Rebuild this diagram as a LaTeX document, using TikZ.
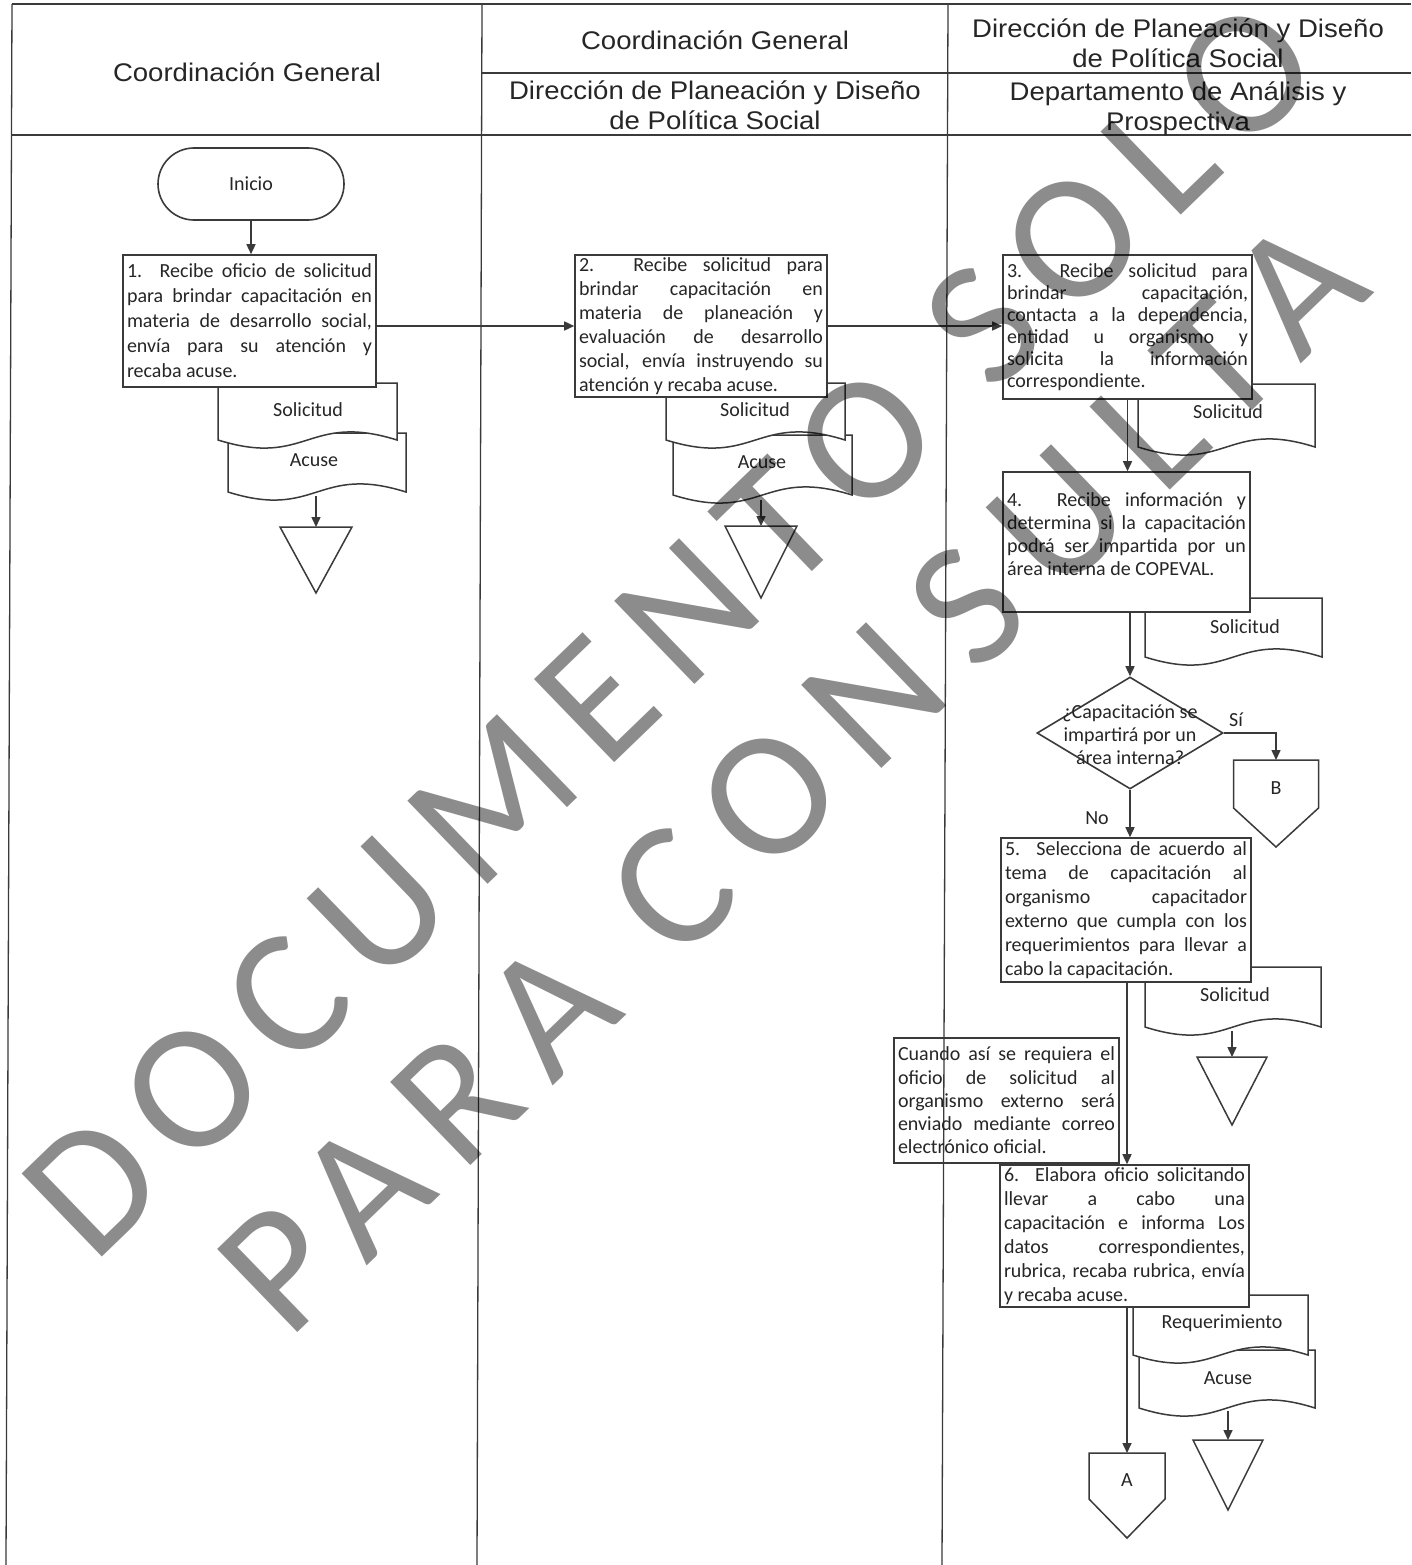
\documentclass[tikz,border=0pt]{standalone}
\usepackage{fontspec}
\setmainfont{Carlito}
\newfontfamily\hdrfont[FakeStretch=1.08]{Liberation Sans}
\newfontfamily\wmfonta[LetterSpace=13]{Carlito}
\newfontfamily\wmfontb[LetterSpace=16]{Carlito}
\usetikzlibrary{arrows.meta,shapes.geometric}
\definecolor{ln}{HTML}{3A3A3A}
\definecolor{tx}{HTML}{262626}
\definecolor{wmgray}{HTML}{8C8C8C}
\newcommand\J[1]{\makebox[\linewidth][s]{\spaceskip=0pt\relax\xspaceskip=0pt\relax #1}}
\newcommand\docshape[4]{\filldraw[docline] (#1,#2) -- (#3,#2) -- (#3,#4) .. controls ({(#1+#3)/2},{#4-28}) and ({(#1+#3)/2},{#4+28}) .. (#1,#4) -- cycle;}
\newcommand\mergetri[5]{\coordinate (#1) at (#2,#3);
  \filldraw[docline] (#2-#4,#3) -- (#2+#4,#3) -- (#2,#3+#5) -- cycle;}
\newcommand\offpage[7]{\coordinate (#1) at (#2,#3);
  \filldraw[docline] (#2-#4,#3) -- (#2+#4,#3) -- (#2+#4,#5) -- (#2,#6) -- (#2-#4,#5) -- cycle;
  \node[lbl] (#1-l) at (#2,{(#3+#5)/2+4}) {#7};}
\begin{document}
\begin{tikzpicture}[x=1pt,y=-1pt,
  lane/.style={draw=ln, line width=1.3pt},
  docline/.style={draw=ln, line width=1.5pt, fill=white},
  proc/.style={draw=ln, line width=1.6pt, fill=white, inner xsep=4pt, inner ysep=0pt,
    text=tx, align=justify, font=\fontsize{20}{24}\selectfont},
  hdr/.style={text=tx, align=center, font=\hdrfont\fontsize{25.5}{30}\selectfont},
  lbl/.style={text=tx, font=\fontsize{20}{23}\selectfont, inner sep=0pt},
  term/.style={draw=ln, line width=1.6pt, fill=white, rounded corners=36pt,
    minimum width=186pt, minimum height=72pt, text=tx, font=\fontsize{20}{24}\selectfont},
  dec/.style={diamond, draw=ln, line width=1.6pt, fill=white, minimum width=186pt,
    minimum height=112pt, inner sep=0pt},
  flow/.style={draw=ln, line width=1.5pt, -{Triangle[length=10pt,width=9pt]}},
  wm/.style={text=wmgray, inner sep=0pt, anchor=base west, rotate=44, blend mode=multiply}]
\useasboundingbox (0,0) rectangle (1411,1565);
\fill[white] (0,0) rectangle (1411,1565);
% lanes
\draw[lane] (12,4) -- (1411,4);
\draw[lane] (12,135) -- (1411,135);
\draw[lane] (482,73) -- (1411,73);
\draw[lane] (12,4) -- (6,1565);
\draw[lane] (482,4) -- (477,1565);
\draw[lane] (948,4) -- (942,1565);
% headers
\node[hdr] (h1) at (247,72) {Coordinación General};
\node[hdr] (h2a) at (715,40) {Coordinación General};
\node[hdr] (h2b) at (715,105) {Dirección de Planeación y Diseño\\de Política Social};
\node[hdr] (h3a) at (1178,43) {Dirección de Planeación y Diseño\\de Política Social};
\node[hdr] (h3b) at (1178,109) {Departamento de Análisis y\\Prospectiva};
% start
\node[term] (ini) at (251,184) {Inicio};
% column 1
\docshape{228}{433}{406}{492}
\docshape{218}{383}{397}{440}
\node[proc, text width=245pt, minimum height=132pt, font=\fontsize{20}{25}\selectfont] (b1) at (249.5,321) {%
\J{1. Recibe oficio de solicitud}\\
\J{para brindar capacitación en}\\
\J{materia de desarrollo social,}\\
\J{envía para su atención y}\\
recaba acuse.};
\node[lbl] (d1s) at (308,410) {Solicitud};
\node[lbl] (d1a) at (314,460) {Acuse};
\coordinate (d1a-b) at (316,496);
\mergetri{t1}{316}{527}{36}{66}
% column 2
\docshape{673}{435}{852}{495}
\docshape{666}{383}{845}{440}
\node[proc, text width=244pt, minimum height=142pt] (b2) at (701,326) {%
\J{2. Recibe solicitud para}\\
\J{brindar capacitación en}\\
\J{materia de planeación y}\\
\J{evaluación de desarrollo}\\
\J{social, envía instruyendo su}\\
atención y recaba acuse.};
\node[lbl] (d2s) at (755,410) {Solicitud};
\node[lbl] (d2a) at (762,462) {Acuse};
\coordinate (d2a-b) at (761,500);
\mergetri{t2}{761}{526}{36}{72}
% column 3
\docshape{1138}{384}{1315}{447}
\node[proc, text width=241pt, minimum height=144pt, font=\fontsize{20}{22}\selectfont] (b3) at (1127.5,327) {%
\J{3. Recibe solicitud para}\\
\J{brindar capacitación,}\\
\J{contacta a la dependencia,}\\
\J{entidad u organismo y}\\
\J{solicita la información}\\
correspondiente.};
\node[lbl] (d3s) at (1228,412) {Solicitud};
\docshape{1145}{598}{1322}{657}
\node[proc, text width=239pt, minimum height=140pt, font=\fontsize{20}{23}\selectfont] (b4) at (1126.5,542) {%
\J{4. Recibe información y}\\
\J{determina si la capacitación}\\
\J{podrá ser impartida por un}\\
área interna de COPEVAL.\par\vspace*{16pt}};
\node[lbl] (d4s) at (1245,627) {Solicitud};
\node[dec] (dec) at (1130,733) {};
\node[lbl, align=center] (dect) at (1130,735) {¿Capacitación se\\impartirá por un\\área interna?};
\node[lbl] (si) at (1236,720) {Sí};
\node[lbl] (no) at (1097,818) {No};
\offpage{pB}{1276}{760}{42.5}{808}{847}{B}
\docshape{1145}{967}{1321}{1027}
\node[proc, text width=242pt, minimum height=144pt] (b5) at (1126,910) {%
\J{5. Selecciona de acuerdo al}\\
\J{tema de capacitación al}\\
\J{organismo capacitador}\\
\J{externo que cumpla con los}\\
\J{requerimientos para llevar a}\\
cabo la capacitación.};
\node[lbl] (d5s) at (1235,995) {Solicitud};
\coordinate (d5s-b) at (1232,1031);
\mergetri{t5}{1232}{1057}{35}{68}
\node[proc, fill=none, text width=217pt, minimum height=125pt, font=\fontsize{20}{23.3}\selectfont] (nota) at (1006.5,1100.5) {%
\J{Cuando así se requiera el}\\
\J{oficio de solicitud al}\\
\J{organismo externo será}\\
\J{enviado mediante correo}\\
electrónico oficial.};
\docshape{1139}{1350}{1315}{1408}
\docshape{1133}{1295}{1308}{1355}
\node[proc, text width=241pt, minimum height=142pt] (b6) at (1124.5,1236) {%
\J{6. Elabora oficio solicitando}\\
\J{llevar a cabo una}\\
\J{capacitación e informa Los}\\
\J{datos correspondientes,}\\
\J{rubrica, recaba rubrica, envía}\\
y recaba acuse.};
\node[lbl] (d6r) at (1222,1323) {Requerimiento};
\node[lbl] (d6a) at (1228,1378) {Acuse};
\coordinate (d6a-b) at (1228,1411);
\mergetri{t6}{1228}{1440}{35}{70}
\offpage{pA}{1127}{1453}{38}{1499}{1538}{A}
% flows
\draw[flow] (ini.south) -- (ini.south |- b1.north);
\draw[flow] (b1.east |- b2.west) -- (b2.west);
\draw[flow] (b2.east) -- (b2.east -| b3.west);
\draw[flow] (b3.south) -- (b3.south |- b4.north);
\draw[flow] (dec.north |- b4.south) -- (dec.north);
\draw[flow] (dec.east) -| (pB);
\draw[flow] (dec.south) -- (dec.south |- b5.north);
\draw[flow] (b5.south -| 1127,0) -- (1127,0 |- b6.north);
\draw[flow] (pA |- b6.south) -- (pA);
\draw[flow] (d1a-b) -- (t1);
\draw[flow] (d2a-b) -- (t2);
\draw[flow] (d5s-b) -- (t5);
\draw[flow] (d6a-b) -- (t6);
% watermark
\node[wm, font=\wmfonta\fontsize{180}{180}\selectfont] (wm1) at (93,1266) {DOCUMENTO SOLO};
\node[wm, font=\wmfontb\fontsize{180}{180}\selectfont] (wm2) at (288,1342) {PARA CONSULTA};
\end{tikzpicture}
\end{document}
